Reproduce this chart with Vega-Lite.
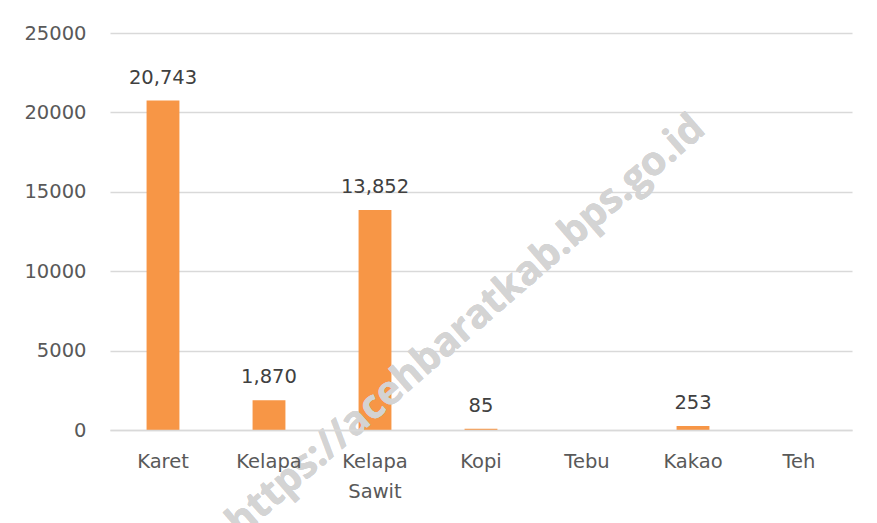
{
  "$schema": "https://vega.github.io/schema/vega-lite/v6.json",
  "width": 742,
  "height": 397,
  "autosize": {"type": "none"},
  "padding": {"left": 110, "top": 33, "right": 25, "bottom": 93},
  "background": "white",
  "config": {
    "view": {"stroke": null},
    "font": "DejaVu Sans"
  },
  "data": {
    "values": [
      {"komoditas": "Karet", "luas": 20743},
      {"komoditas": "Kelapa", "luas": 1870},
      {"komoditas": "Kelapa Sawit", "luas": 13852},
      {"komoditas": "Kopi", "luas": 85},
      {"komoditas": "Tebu", "luas": 0},
      {"komoditas": "Kakao", "luas": 253},
      {"komoditas": "Teh", "luas": 0}
    ]
  },
  "layer": [
    {
      "mark": {"type": "bar", "color": "#F79646"},
      "encoding": {
        "x": {
          "field": "komoditas",
          "type": "nominal",
          "sort": null,
          "scale": {"paddingInner": 0.69, "paddingOuter": 0.345},
          "axis": {
            "title": null,
            "labelAngle": 0,
            "ticks": false,
            "domain": true,
            "domainColor": "#d9d9d9",
            "domainWidth": 1.3,
            "labelPadding": 22,
            "labelFontSize": 19.5,
            "labelColor": "#595959",
            "labelExpr": "datum.label == 'Kelapa Sawit' ? ['Kelapa', 'Sawit'] : datum.label",
            "labelLineHeight": 30,
            "zindex": 2
          }
        },
        "y": {
          "field": "luas",
          "type": "quantitative",
          "scale": {"domain": [0, 25000], "nice": false},
          "axis": {
            "title": null,
            "values": [0, 5000, 10000, 15000, 20000, 25000],
            "format": "d",
            "ticks": false,
            "domain": false,
            "gridColor": "#d9d9d9",
            "gridWidth": 1.3,
            "labelPadding": 24,
            "labelFontSize": 19.5,
            "labelColor": "#595959"
          }
        }
      }
    },
    {
      "transform": [{"filter": "datum.luas > 0"}],
      "mark": {"type": "text", "baseline": "bottom", "dy": -13, "fontSize": 19.5, "color": "#404040"},
      "encoding": {
        "x": {"field": "komoditas", "type": "nominal", "sort": null},
        "y": {"field": "luas", "type": "quantitative", "scale": {"domain": [0, 25000], "nice": false}},
        "text": {"field": "luas", "type": "quantitative", "format": ","}
      }
    },
    {
      "mark": {
        "type": "text",
        "text": "https://acehbaratkab.bps.go.id",
        "font": "Open Sans",
        "angle": 319,
        "fontSize": 40,
        "fontWeight": "bold",
        "color": "#d4d4d4",
        "opacity": 0.5,
        "align": "center",
        "baseline": "middle",
        "dx": -20
      },
      "encoding": {
        "x": {"datum": "Kopi"},
        "y": {"datum": 7400}
      }
    }
  ]
}
